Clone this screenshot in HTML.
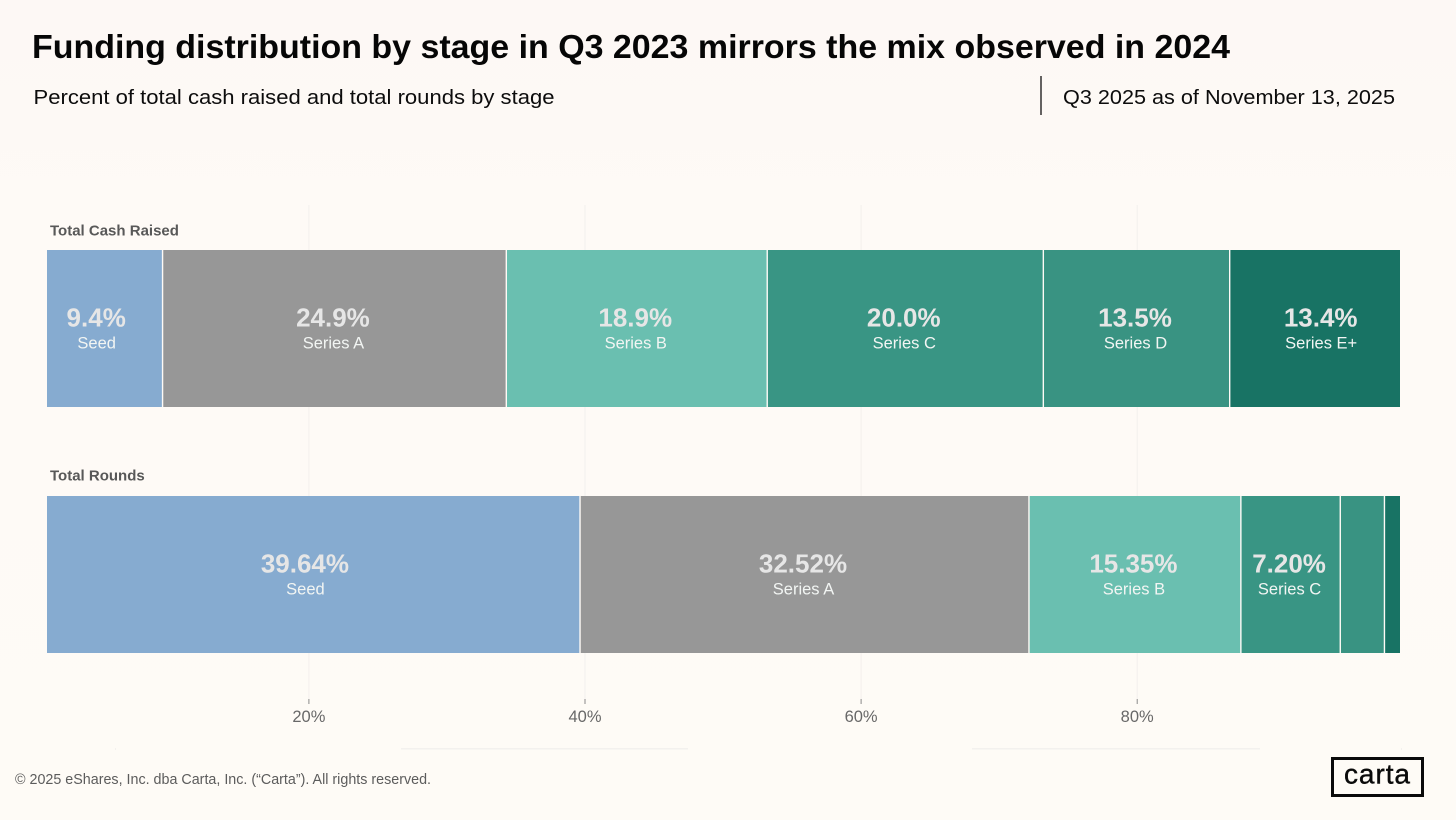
<!DOCTYPE html>
<html lang="en">
<head>
<meta charset="utf-8">
<title>Funding distribution by stage</title>
<style>
  html, body { margin: 0; padding: 0; background: #fefaf6; }
  body { width: 1456px; height: 820px; overflow: hidden; }
  svg { display: block; font-family: "Liberation Sans", sans-serif; }
</style>
</head>
<body>
<svg id="chart" xmlns="http://www.w3.org/2000/svg" width="1456" height="820" viewBox="0 0 1456 820">
  <defs>
    <linearGradient id="page-fade" x1="0" y1="0" x2="0" y2="1">
      <stop offset="0" stop-color="#fdf8f5"/>
      <stop offset="0.14" stop-color="#fdf9f5"/>
      <stop offset="0.3" stop-color="#fefaf6"/>
      <stop offset="1" stop-color="#fefbf6"/>
    </linearGradient>
  </defs>
  <rect x="0" y="0" width="1456" height="820" fill="url(#page-fade)"/>
  <text x="32" y="58" font-size="33" font-weight="700" fill="#060606" textLength="1198" lengthAdjust="spacingAndGlyphs">Funding distribution by stage in Q3 2023 mirrors the mix observed in 2024</text>
  <text x="33.5" y="104" font-size="20.5" fill="#0c0c0c" textLength="521" lengthAdjust="spacingAndGlyphs">Percent of total cash raised and total rounds by stage</text>
  <line x1="1041" y1="76" x2="1041" y2="115" stroke="#111111" stroke-width="1.3"/>
  <text x="1063" y="104" font-size="20.5" fill="#0c0c0c" textLength="332" lengthAdjust="spacingAndGlyphs">Q3 2025 as of November 13, 2025</text>

  <g id="grid"></g>
  <g id="bars"></g>
  <g id="axis"></g>

  <g fill="#f3f1ee">
    <rect x="401" y="748" width="287" height="1.5"/>
    <rect x="972" y="748" width="288" height="1.5"/>
    <rect x="115" y="748" width="1" height="2"/>
    <rect x="1401" y="748" width="1" height="2"/>
  </g>

  <text x="15" y="784" font-size="14.5" fill="#5c5c5c" textLength="416" lengthAdjust="spacingAndGlyphs">© 2025 eShares, Inc. dba Carta, Inc. (“Carta”). All rights reserved.</text>
  <g>
    <rect x="1332.5" y="758.5" width="90" height="37" fill="none" stroke="#0a0a0a" stroke-width="3"/>
    <text x="1344" y="783.5" font-size="28" fill="#0a0a0a" stroke="#0a0a0a" stroke-width="0.4" textLength="66" lengthAdjust="spacing">carta</text>
  </g>
</svg>

<script>
const stages = ['Seed', 'Series A', 'Series B', 'Series C', 'Series D', 'Series E+'];
const cashRaised = [9.4, 24.9, 18.9, 20.0, 13.5, 13.4];
const totalRounds = [39.64, 32.52, 15.35, 7.20, 3.2, 2.1];
const axisTicks = [20, 40, 60, 80];
const tickLabels = ['20%', '40%', '60%', '80%'];

const NS = 'http://www.w3.org/2000/svg';
const stageColors = ['#86abd0', '#979797', '#6abfb0', '#399584', '#399382', '#187364'];
const plotLeft = 47;
const plotRight = 1400;
const xZero = 32.8;
const xPerPercent = 13.805;
const barHeight = 157;
const gapWidth = 1.4;
const minLabelledShare = 5;

function x(value) { return xZero + value * xPerPercent; }
function clampX(px) { return Math.max(plotLeft, Math.min(plotRight, px)); }

function make(tag, parent) {
  const el = document.createElementNS(NS, tag);
  parent.appendChild(el);
  return el;
}

const gridGroup = document.getElementById('grid');
const barsGroup = document.getElementById('bars');
const axisGroup = document.getElementById('axis');

axisTicks.forEach(function (tick, i) {
  const gridLine = make('line', gridGroup);
  
  
  gridLine.setAttribute('x1', x(tick));
  gridLine.setAttribute('x2', x(tick));
  gridLine.setAttribute('y1', 205);
  gridLine.setAttribute('y2', 699);
  gridLine.setAttribute('stroke', '#f3f0ed');
  gridLine.setAttribute('stroke-width', 1);

  const tickMark = make('line', axisGroup);
  
  
  tickMark.setAttribute('x1', x(tick));
  tickMark.setAttribute('x2', x(tick));
  tickMark.setAttribute('y1', 699);
  tickMark.setAttribute('y2', 704);
  tickMark.setAttribute('stroke', '#8a8a8a');
  tickMark.setAttribute('stroke-width', 1);

  const tickLabel = make('text', axisGroup);
  
  
  tickLabel.setAttribute('x', x(tick));
  tickLabel.setAttribute('y', 722);
  tickLabel.setAttribute('text-anchor', 'middle');
  tickLabel.setAttribute('font-size', 16.5);
  tickLabel.setAttribute('fill', '#686868');
  tickLabel.textContent = tickLabels[i];
});

function drawRow(rowKey, title, values, digits, top, headingY) {
  const heading = make('text', barsGroup);
  
  
  heading.setAttribute('x', 50);
  heading.setAttribute('y', headingY);
  heading.setAttribute('font-size', 15);
  heading.setAttribute('font-weight', 700);
  heading.setAttribute('fill', '#585858');
  heading.textContent = title;

  let running = 0;
  values.forEach(function (value, i) {
    const startPct = running;
    running += value;
    const rawStart = x(startPct);
    const rawEnd = x(running);
    const left = clampX(rawStart) + (i > 0 ? gapWidth / 2 : 0);
    const right = clampX(rawEnd) - (i < values.length - 1 ? gapWidth / 2 : 0);
    const slug = stages[i].toLowerCase().replace(/[^a-z0-9]+/g, '-').replace(/-$/, '');

    const seg = make('rect', barsGroup);
    
    
    seg.setAttribute('x', left);
    seg.setAttribute('y', top);
    seg.setAttribute('width', Math.max(0, right - left));
    seg.setAttribute('height', barHeight);
    seg.setAttribute('fill', stageColors[i]);

    if (value >= minLabelledShare) {
      const centre = (rawStart + rawEnd) / 2 - 1.5;

      const valueLabel = make('text', barsGroup);
      
      
      valueLabel.setAttribute('x', centre);
      valueLabel.setAttribute('y', top + 76.5);
      valueLabel.setAttribute('text-anchor', 'middle');
      valueLabel.setAttribute('font-size', 26);
      valueLabel.setAttribute('font-weight', 700);
      valueLabel.setAttribute('fill', '#e6e6e6');
      valueLabel.textContent = value.toFixed(digits) + '%';

      const stageLabel = make('text', barsGroup);
      
      
      stageLabel.setAttribute('x', centre + 0.5);
      stageLabel.setAttribute('y', top + 98.5);
      stageLabel.setAttribute('text-anchor', 'middle');
      stageLabel.setAttribute('font-size', 16.5);
      stageLabel.setAttribute('fill', '#f2f5f3');
      stageLabel.textContent = stages[i];
    }
  });
}

drawRow('cash', 'Total Cash Raised', cashRaised, 1, 250, 235.5);
drawRow('rounds', 'Total Rounds', totalRounds, 2, 496, 480.5);
</script>
</body>
</html>
